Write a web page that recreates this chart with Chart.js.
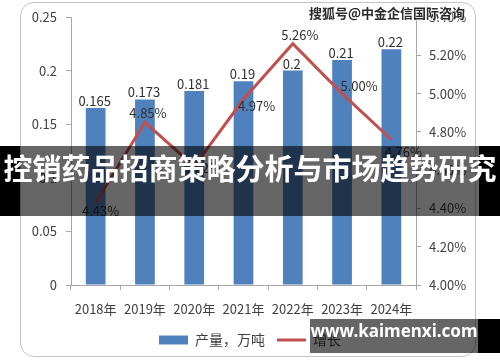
<!DOCTYPE html>
<html>
<head>
<meta charset="utf-8">
<script src="https://cdn.jsdelivr.net/npm/chart.js@4"></script>
<style>
  body { margin: 0; background: #fff; }
  #wrap { position: relative; width: 500px; height: 362px; overflow: hidden; }
  #card { position: absolute; left: 20px; top: 2px; width: 456px; height: 355px;
          border: 1.5px solid #c4c4c4; border-radius: 14px; box-sizing: border-box; }
  canvas { position: absolute; left: 0; top: 0; }
  .band { position: absolute; background: rgba(0,0,0,0.6); }
  .black { position: absolute; background: #000; }
  #title { position: absolute; left: 0; top: 146px; width: 500px; height: 70px; line-height: 70px;
           text-align: center; color: #fff; font: bold 29px 'Noto Sans CJK SC', sans-serif; white-space: nowrap; }
  #site { position: absolute; left: 310px; top: 319px; width: 168px; height: 34px; line-height: 34px;
          text-align: center; color: #fff; font: bold 17px 'Noto Sans', sans-serif; }
  #sohu { position: absolute; left: 309px; top: 3px; color: #2a2a2a; font: bold 13px 'Noto Sans CJK SC', sans-serif;
          text-shadow: 0 0 2px #fff, 0 0 2px #fff; white-space: nowrap; }
</style>
</head>
<body>
<div id="wrap">
  <div id="card"></div>
  <canvas id="chart" width="500" height="362"></canvas>
  <div class="black" style="left:0;top:146px;width:20px;height:70px"></div>
  <div class="band" style="left:20px;top:146px;width:459px;height:70px"></div>
  <div class="black" style="left:479px;top:146px;width:21px;height:70px"></div>
  <div id="title">控销药品招商策略分析与市场趋势研究</div>
  <div class="band" style="left:310px;top:319px;width:168px;height:34px"></div>
  <div class="black" style="left:478px;top:319px;width:22px;height:34px"></div>
  <div id="site">www.kaimenxi.com</div>
  <div id="sohu">搜狐号@中金企信国际咨询</div>
</div>
<script>
const years = ['2018年', '2019年', '2020年', '2021年', '2022年', '2023年', '2024年'];
const output = [0.165, 0.173, 0.181, 0.19, 0.2, 0.21, 0.22];
const growth = [4.43, 4.85, 4.62, 4.97, 5.26, 5.00, 4.76];
const outputLabels = ['0.165', '0.173', '0.181', '0.19', '0.2', '0.21', '0.22'];

// where the % labels sit relative to each point (dx, dy)
const growthLabelOffsets = [[5, 8], [3, -9], [8, 2], [13, 7], [7, -9], [17, -8], [12, 13]];

Chart.defaults.font.family = "'Noto Sans CJK SC', 'Noto Sans', sans-serif";
Chart.defaults.color = '#404040';

const valueLabels = {
    id: 'valueLabels',
    afterDatasetsDraw(chart) {
        const ctx = chart.ctx;
        ctx.save();
        ctx.font = "13px 'Noto Sans CJK SC', 'Noto Sans', sans-serif";
        ctx.fillStyle = '#303030';
        ctx.textAlign = 'center';
        ctx.textBaseline = 'middle';
        chart.getDatasetMeta(0).data.forEach(function (bar, i) {
            ctx.fillText(outputLabels[i], bar.x - 1, bar.y - 7);
        });
        chart.getDatasetMeta(1).data.forEach(function (pt, i) {
            const off = growthLabelOffsets[i];
            ctx.fillText(growth[i].toFixed(2) + '%', pt.x + off[0], pt.y + off[1]);
        });
        ctx.restore();
    }
};

const ctx = document.getElementById('chart').getContext('2d');
new Chart(ctx, {
    data: {
        labels: years,
        datasets: [{
            type: 'bar',
            label: '产量，万吨',
            data: output,
            backgroundColor: '#4f81bd',
            barPercentage: 0.8,
            categoryPercentage: 0.5,
            yAxisID: 'y',
            order: 2
        }, {
            type: 'line',
            label: '增长',
            data: growth,
            borderColor: '#c0504d',
            backgroundColor: '#c0504d',
            borderWidth: 3,
            pointRadius: 0,
            pointStyle: 'line',
            tension: 0,
            yAxisID: 'y1',
            order: 1
        }]
    },
    options: {
        responsive: false,
        animation: false,
        layout: { padding: { top: 17, left: 0, right: 0, bottom: 5 } },
        scales: {
            x: {
                grid: { display: true, drawOnChartArea: false, tickLength: 5, color: '#a6a6a6', offset: true },
                border: { color: '#a6a6a6' },
                ticks: { font: { size: 13 }, padding: 11, maxRotation: 0 },
                afterFit: function (s) { s.height = 36; }
            },
            y: {
                position: 'left',
                min: 0, max: 0.25,
                grid: { display: true, drawOnChartArea: false, tickLength: 5, color: '#a6a6a6' },
                border: { color: '#a6a6a6' },
                ticks: { stepSize: 0.05, font: { size: 13 }, padding: 9,
                         callback: function (v) { return String(+v.toFixed(2)); } },
                afterFit: function (s) { s.width = 71; }
            },
            y1: {
                position: 'right',
                min: 4.0, max: 5.4,
                grid: { display: true, drawOnChartArea: false, tickLength: 5, color: '#a6a6a6' },
                border: { color: '#a6a6a6' },
                ticks: { stepSize: 0.2, font: { size: 13 }, padding: 8,
                         callback: function (v) { return v.toFixed(2) + '%'; } },
                afterFit: function (s) { s.width = 84; }
            }
        },
        plugins: {
            legend: {
                position: 'bottom',
                labels: {
                    usePointStyle: true,
                    pointStyleWidth: 29,
                    boxHeight: 9,
                    font: { size: 14 },
                    padding: 12,
                    sort: function (a, b) { return a.datasetIndex - b.datasetIndex; },
                    generateLabels: function (chart) {
                        const items = Chart.defaults.plugins.legend.labels.generateLabels(chart);
                        items.forEach(function (it) {
                            if (it.datasetIndex === 0) {
                                it.pointStyle = 'rect';
                                it.lineWidth = 0;
                            }
                        });
                        return items;
                    }
                }
            },
            tooltip: { enabled: false }
        }
    },
    plugins: [valueLabels]
});
</script>
</body>
</html>
